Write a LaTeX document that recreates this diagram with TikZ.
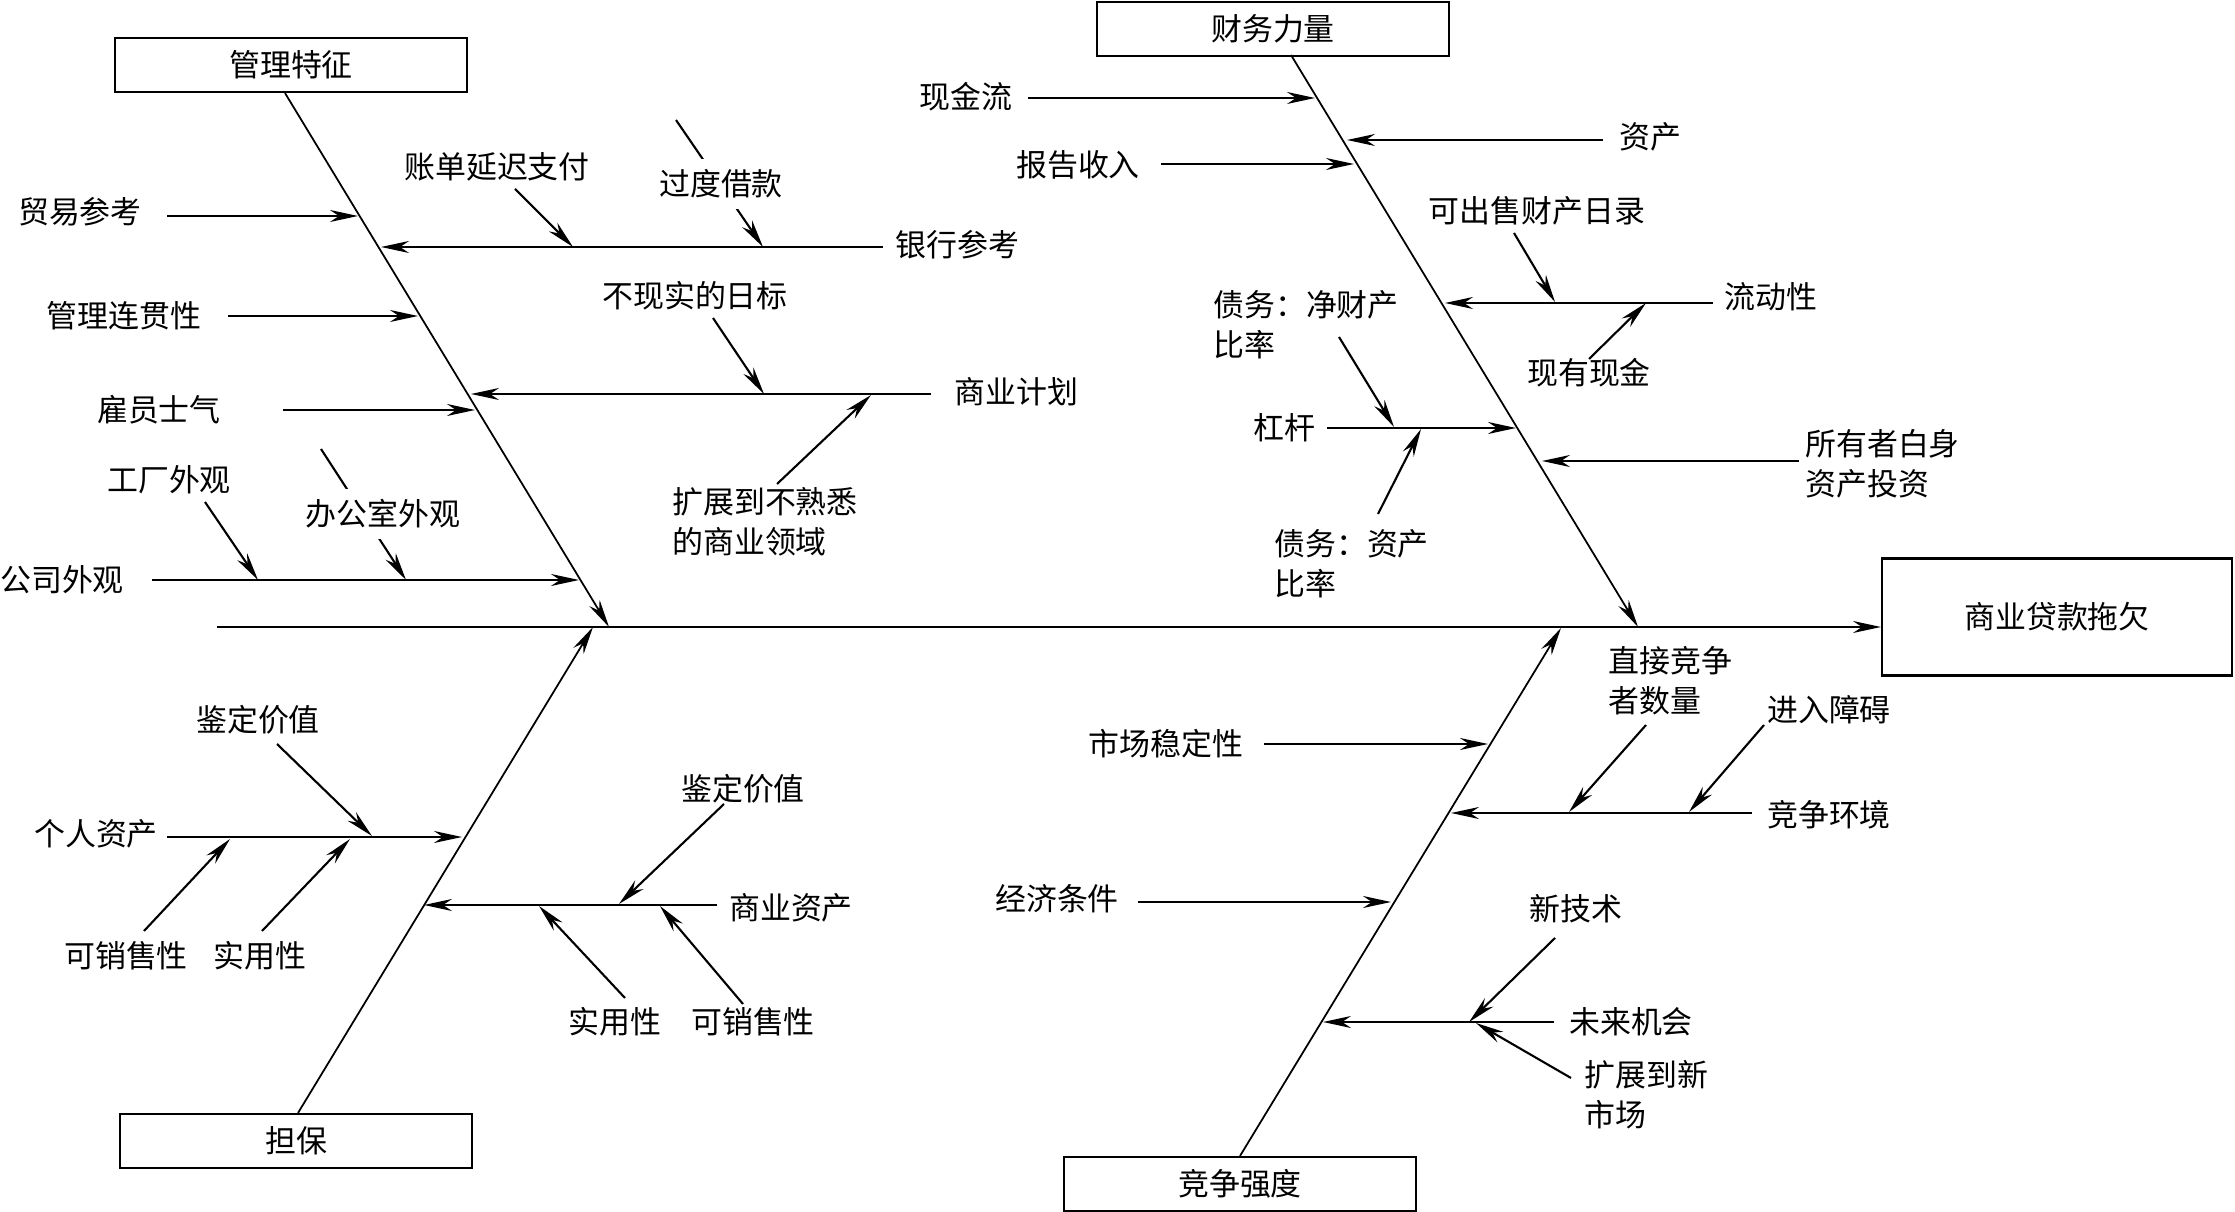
\documentclass[tikz,border=0pt]{standalone}
\usepackage{fontspec}
\setmainfont{Noto Sans CJK SC}
\usetikzlibrary{arrows.meta}
\tikzset{
  lbl/.style={font=\fontsize{8.8}{11.4}\selectfont, inner sep=1pt, align=left},
  causebox/.style={draw, line width=0.6pt, minimum width=35.2mm, minimum height=5.4mm,
    inner sep=0pt, font=\fontsize{8.8}{11.4}\selectfont},
  spine/.style={line width=0.5pt},
  twig/.style={line width=0.6pt, ->},
}

\begin{document}
\begin{tikzpicture}[x=0.1mm, y=-0.1mm, >={Stealth[length=2.8mm, width=1.2mm, inset=0.9mm]}]

\useasboundingbox (0,0) rectangle (2235,1212);

% Boxes
\node[causebox] (mgmt) at (291,65) {管理特征};
\node[causebox] (fin) at (1273,29) {财务力量};
\node[causebox] (coll) at (296,1141) {担保};
\node[causebox] (comp) at (1240,1184) {竞争强度};
\node[causebox, minimum width=35mm, minimum height=11.7mm] (effect) at (2057,617) {商业贷款拖欠};

% --- Main line ---
\coordinate (mainstart) at (217,627);
\draw[twig] (mainstart) -- (mainstart -| effect.west);

% --- Management ---
\coordinate (mgmttip) at (609,627);
\coordinate (m1s) at (167,216);  \coordinate (m1e) at (358,216);
\coordinate (m2s) at (883,247);  \coordinate (m2e) at (381,247);
\coordinate (m2as) at (515,189); \coordinate (m2ae) at (573,247);
\coordinate (m2bs) at (676,120); \coordinate (m2be) at (763,247);
\coordinate (m3s) at (228,316);  \coordinate (m3e) at (418,316);
\coordinate (m4s) at (931,394);  \coordinate (m4e) at (471,394);
\coordinate (m4as) at (713,318); \coordinate (m4ae) at (764,394);
\coordinate (m4bs) at (777,484); \coordinate (m4be) at (871,395);
\coordinate (m5s) at (283,410);  \coordinate (m5e) at (475,410);
\coordinate (m6s) at (152,580);  \coordinate (m6e) at (579,580);
\coordinate (m6as) at (205,502); \coordinate (m6ae) at (258,580);
\coordinate (m6bs) at (321,449); \coordinate (m6be) at (406,580);

\draw[spine, ->] ([xshift=-0.6mm]mgmt.south) -- (mgmttip);
\draw[twig] (m1s) -- (m1e);
\draw[twig] (m2s) -- (m2e);
\draw[twig] (m2as) -- (m2ae);
\draw[twig] (m2bs) -- (m2be);
\draw[twig] (m3s) -- (m3e);
\draw[twig] (m4s) -- (m4e);
\draw[twig] (m4as) -- (m4ae);
\draw[twig] (m4bs) -- (m4be);
\draw[twig] (m5s) -- (m5e);
\draw[twig] (m6s) -- (m6e);
\draw[twig] (m6as) -- (m6ae);
\draw[twig] (m6bs) -- (m6be);

\node[lbl] (trade) at (80,212) {贸易参考};
\node[lbl] (latepay) at (497,167) {账单延迟支付};
\node[lbl, fill=white, inner sep=3pt] (overborrow) at (721,184) {过度借款};
\node[lbl, anchor=west] (bankref) at (891,245) {银行参考};
\node[lbl] (mgmtcont) at (124,316) {管理连贯性};
\node[lbl] (unreal) at (695,296) {不现实的日标};
\node[lbl, anchor=west] (bizplan) at (950,392) {商业计划};
\node[lbl] (morale) at (159,410) {雇员士气};
\node[lbl] (unfamiliar) at (765,522) {扩展到不熟悉\\的商业领域};
\node[lbl] (factory) at (169,480) {工厂外观};
\node[lbl, fill=white, inner sep=3pt] (office) at (383,514) {办公室外观};
\node[lbl] (company) at (62,580) {公司外观};

% --- Financial strength ---
\coordinate (fintop) at (1291,55);
\coordinate (fintip) at (1638,627);
\coordinate (f1s) at (1028,98);   \coordinate (f1e) at (1315,98);
\coordinate (f2s) at (1603,140);  \coordinate (f2e) at (1347,140);
\coordinate (f3s) at (1161,164);  \coordinate (f3e) at (1354,164);
\coordinate (f4s) at (1713,303);  \coordinate (f4e) at (1445,303);
\coordinate (f4as) at (1514,233); \coordinate (f4ae) at (1555,302);
\coordinate (f4bs) at (1589,359); \coordinate (f4be) at (1646,303);
\coordinate (f5s) at (1327,428);  \coordinate (f5e) at (1516,428);
\coordinate (f5as) at (1339,337); \coordinate (f5ae) at (1394,427);
\coordinate (f5bs) at (1378,514); \coordinate (f5be) at (1421,429);
\coordinate (f6s) at (1799,461);  \coordinate (f6e) at (1542,461);

\draw[spine, ->] (fintop) -- (fintip);
\draw[twig] (f1s) -- (f1e);
\draw[twig] (f2s) -- (f2e);
\draw[twig] (f3s) -- (f3e);
\draw[twig] (f4s) -- (f4e);
\draw[twig] (f4as) -- (f4ae);
\draw[twig] (f4bs) -- (f4be);
\draw[twig] (f5s) -- (f5e);
\draw[twig] (f5as) -- (f5ae);
\draw[twig] (f5bs) -- (f5be);
\draw[twig] (f6s) -- (f6e);

\node[lbl] (cashflow) at (966,97) {现金流};
\node[lbl] (assets) at (1650,137) {资产};
\node[lbl] (income) at (1078,165) {报告收入};
\node[lbl] (saleable) at (1537,211) {可出售财产日录};
\node[lbl] (liquidity) at (1771,297) {流动性};
\node[lbl] (cash) at (1589,373) {现有现金};
\node[lbl, anchor=west] (debtnw) at (1209,325) {债务：净财产\\比率};
\node[lbl] (leverage) at (1284,428) {杠杆};
\node[lbl, anchor=west] (debtasset) at (1270,564) {债务：资产\\比率};
\node[lbl, anchor=west] (owner) at (1801,464) {所有者白身\\资产投资};

% --- Collateral ---
\coordinate (colltop) at (593,627);
\coordinate (c1s) at (167,837);   \coordinate (c1e) at (462,837);
\coordinate (c1as) at (277,744);  \coordinate (c1ae) at (372,836);
\coordinate (c1bs) at (144,931);  \coordinate (c1be) at (230,839);
\coordinate (c1cs) at (262,931);  \coordinate (c1ce) at (350,839);
\coordinate (c2s) at (717,905);   \coordinate (c2e) at (424,905);
\coordinate (c2as) at (724,804);  \coordinate (c2ae) at (619,904);
\coordinate (c2bs) at (625,998);  \coordinate (c2be) at (539,906);
\coordinate (c2cs) at (743,1004); \coordinate (c2ce) at (660,906);

\draw[spine, ->] ([xshift=0.2mm]coll.north) -- (colltop);
\draw[twig] (c1s) -- (c1e);
\draw[twig] (c1as) -- (c1ae);
\draw[twig] (c1bs) -- (c1be);
\draw[twig] (c1cs) -- (c1ce);
\draw[twig] (c2s) -- (c2e);
\draw[twig] (c2as) -- (c2ae);
\draw[twig] (c2bs) -- (c2be);
\draw[twig] (c2cs) -- (c2ce);

\node[lbl] (appraise1) at (258,720) {鉴定价值};
\node[lbl] (personal) at (96,834) {个人资产};
\node[lbl] (market1) at (126,956) {可销售性};
\node[lbl] (useful1) at (260,956) {实用性};
\node[lbl] (appraise2) at (743,789) {鉴定价值};
\node[lbl] (bizassets) at (791,908) {商业资产};
\node[lbl] (useful2) at (615,1022) {实用性};
\node[lbl] (market2) at (753,1022) {可销售性};

% --- Competition intensity ---
\coordinate (comptip) at (1561,628);
\coordinate (k1s) at (1264,744);  \coordinate (k1e) at (1488,744);
\coordinate (k2s) at (1752,813);  \coordinate (k2e) at (1451,813);
\coordinate (k2as) at (1646,725); \coordinate (k2ae) at (1569,812);
\coordinate (k2bs) at (1764,725); \coordinate (k2be) at (1689,812);
\coordinate (k3s) at (1138,902);  \coordinate (k3e) at (1391,902);
\coordinate (k4s) at (1554,1022); \coordinate (k4e) at (1323,1022);
\coordinate (k4as) at (1555,938); \coordinate (k4ae) at (1469,1022);
\coordinate (k4bs) at (1571,1078); \coordinate (k4be) at (1476,1023);

\draw[spine, ->] (comp.north) -- (comptip);
\draw[twig] (k1s) -- (k1e);
\draw[twig] (k2s) -- (k2e);
\draw[twig] (k2as) -- (k2ae);
\draw[twig] (k2bs) -- (k2be);
\draw[twig] (k3s) -- (k3e);
\draw[twig] (k4s) -- (k4e);
\draw[twig] (k4as) -- (k4ae);
\draw[twig] (k4bs) -- (k4be);

\node[lbl, anchor=west] (rivals) at (1604,681) {直接竞争\\者数量};
\node[lbl] (barrier) at (1829,710) {进入障碍};
\node[lbl] (environ) at (1829,815) {竞争环境};
\node[lbl] (stability) at (1166,744) {市场稳定性};
\node[lbl] (economy) at (1057,899) {经济条件};
\node[lbl] (newtech) at (1576,909) {新技术};
\node[lbl] (future) at (1631,1022) {未来机会};
\node[lbl, anchor=west] (newmarket) at (1580,1095) {扩展到新\\市场};

\end{tikzpicture}
\end{document}
